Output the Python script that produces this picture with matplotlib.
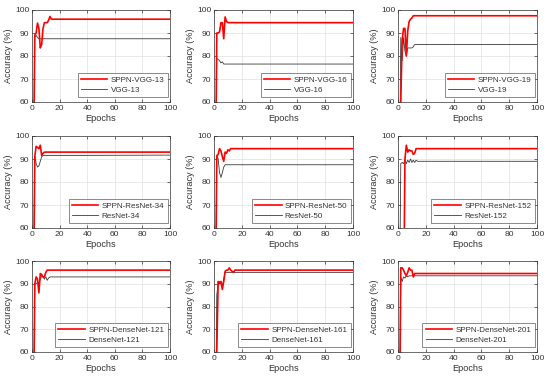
import matplotlib
matplotlib.use("Agg")
import matplotlib.pyplot as plt

plt.rcParams['font.family'] = ['Liberation Sans', 'DejaVu Sans']

# Each series: epochs up to the plateau, then last point at epoch 100 (held value)
names = ["VGG-13", "VGG-16", "VGG-19",
         "ResNet-34", "ResNet-50", "ResNet-152",
         "DenseNet-121", "DenseNet-161", "DenseNet-201"]

sppn_x = [
    [1, 2, 3, 4, 5, 6, 7, 8, 9, 10, 11, 12, 13, 14, 100],
    [1, 2, 3, 4, 5, 6, 7, 8, 9, 10, 100],
    [1, 2, 3, 4, 5, 6, 7, 8, 9, 10, 11, 100],
    [1, 2, 3, 4, 5, 6, 7, 8, 9, 100],
    [1, 2, 3, 4, 5, 6, 7, 8, 9, 10, 11, 12, 100],
    [4, 5, 6, 7, 8, 9, 10, 11, 12, 13, 100],
    [1, 2, 3, 4, 5, 6, 7, 8, 9, 10, 11, 100],
    [1, 2, 3, 4, 5, 6, 7, 8, 9, 10, 11, 12, 13, 14, 15, 100],
    [1, 2, 3, 4, 5, 6, 7, 8, 9, 10, 11, 12, 100],
]
sppn_y = [
    [20, 89, 90, 94.3, 92, 83.5, 85, 92, 94.5, 94.5, 94.5, 95.5, 97.2, 96, 96],
    [20, 90, 90, 90.5, 94.5, 94.5, 87.5, 97, 95, 94.5, 94.5],
    [20, 60, 87, 92, 92, 80, 91, 95, 96, 96.5, 97.5, 97.5],
    [20, 91, 95.5, 95, 94.5, 96, 91.5, 92.5, 93, 93],
    [20, 91.5, 92, 94.5, 93.5, 91, 89, 93, 92.5, 94, 93.5, 94.5, 94.5],
    [20, 90, 96, 93, 94, 93.5, 93.5, 92, 92.5, 94.5, 94.5],
    [20, 90, 93, 92, 86, 94.5, 94, 93, 93, 95, 96, 96],
    [20, 60, 91, 90, 91, 87.5, 91, 95.5, 96, 96, 97, 96, 95.5, 95, 96, 96],
    [20, 97, 97, 96, 94.5, 93.5, 95, 97, 96, 96, 93, 94.5, 94.5],
]

base_x = [
    [1, 2, 3, 4, 5, 100],
    [1, 2, 3, 4, 5, 6, 7, 8, 100],
    [1, 2, 3, 4, 5, 6, 7, 8, 9, 10, 11, 12, 100],
    [1, 2, 3, 4, 5, 6, 7, 8, 100],
    [1, 2, 3, 4, 5, 6, 7, 8, 100],
    [1, 2, 3, 4, 5, 6, 7, 8, 9, 10, 11, 12, 13, 14, 100],
    [1, 2, 3, 4, 5, 6, 7, 8, 9, 10, 11, 12, 13, 100],
    [1, 2, 3, 4, 5, 6, 7, 8, 9, 100],
    [1, 2, 3, 4, 5, 6, 7, 8, 100],
]
base_y = [
    [20, 88, 89, 88, 87.5, 87.5],
    [20, 79, 78.5, 78, 77, 77.5, 76.5, 76.5, 76.5],
    [20, 88, 78, 88, 82, 80, 83.5, 83.5, 83.5, 83.5, 84, 85, 85],
    [20, 91.5, 88, 86.5, 87, 89, 91, 91.5, 91.7],
    [20, 91.5, 90, 84, 82, 84, 86.5, 87.5, 87.5],
    [20, 88, 88.5, 88, 89.5, 88, 89.5, 88.5, 90, 88.5, 89.5, 88.5, 89.5, 89, 89],
    [20, 90, 90, 90.5, 90, 92, 93.5, 93, 92, 93, 91.5, 92.5, 93, 93],
    [20, 85, 90.5, 91, 90, 89, 92, 95, 95, 95],
    [20, 93, 91, 93, 92.5, 93.5, 93, 93.5, 93.5],
]

x_ticks = [0, 20, 40, 60, 80, 100]
y_ticks = [60, 70, 80, 90, 100]

W, H = 550, 379
fig = plt.figure(figsize=(5.5, 3.79), dpi=100)
col_l = [32, 214, 398]
col_r = [170, 353, 537]
row_t = [10, 136, 261]
row_b = [102, 228, 352]

fs_tick = 6.1
fs_lab = 6.6
fs_leg = 5.8
txt_col = '#333333'
for i in range(9):
    r, c = divmod(i, 3)
    w_px = col_r[c] - col_l[c]
    h_px = row_b[r] - row_t[r]
    ax = fig.add_axes([col_l[c] / W, 1 - row_b[r] / H, w_px / W, h_px / H])
    ax.plot(sppn_x[i], sppn_y[i], color='#ff0000', lw=1.2, label='SPPN-' + names[i], zorder=3)
    ax.plot(base_x[i], base_y[i], color='#3a3a3a', lw=0.6, label=names[i], zorder=2)
    ax.set_xlim(0, 100)
    ax.set_ylim(60, 100)
    ax.set_xticks(x_ticks)
    ax.set_yticks(y_ticks)
    ax.grid(True, color='#e0e0e0', lw=0.5)
    ax.set_axisbelow(True)
    ax.tick_params(direction='in', length=2, width=0.5, labelsize=fs_tick,
                   colors=txt_col, pad=2, top=True, right=True)
    for s in ax.spines.values():
        s.set_color('#333333')
        s.set_linewidth(0.5)
    ax.set_xlabel('Epochs', fontsize=fs_lab, color=txt_col, labelpad=1.5)
    ax.set_ylabel('Accuracy (%)', fontsize=fs_lab, color=txt_col, labelpad=1.5)
    leg = ax.legend(loc='lower right', bbox_to_anchor=(1 - 2.5 / w_px, 5 / h_px),
                    borderaxespad=0, fontsize=fs_leg, frameon=True, fancybox=False,
                    handlelength=3.3, borderpad=0.4,
                    labelspacing=0.3, handletextpad=0.4)
    leg.get_frame().set_edgecolor('#333333')
    leg.get_frame().set_linewidth(0.5)
    for t in leg.get_texts():
        t.set_color(txt_col)

fig.savefig('out.png', dpi=100)
